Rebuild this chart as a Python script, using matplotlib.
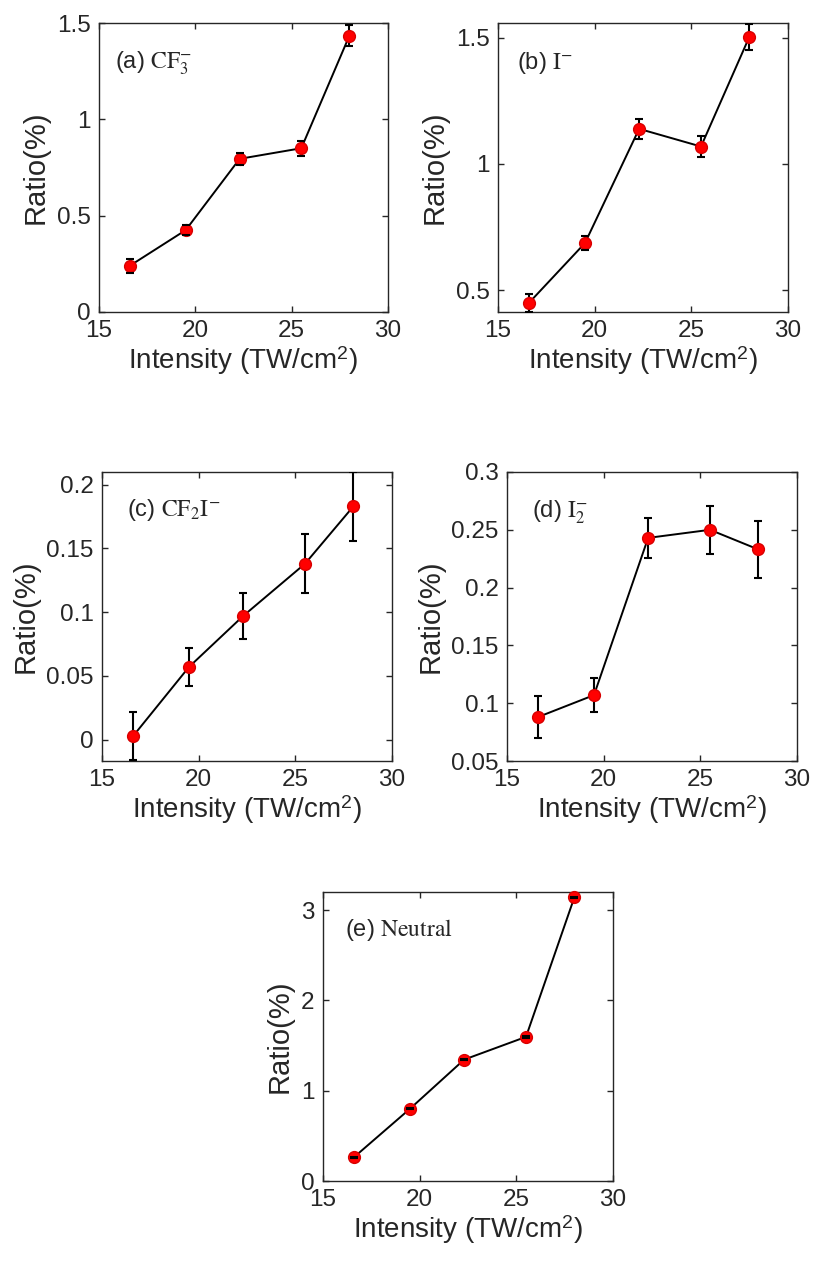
import matplotlib
matplotlib.use("Agg")
import matplotlib.pyplot as plt
from matplotlib.ticker import FuncFormatter

plt.rcParams['font.family'] = ['Liberation Sans', 'DejaVu Sans']
plt.rcParams['mathtext.fontset'] = 'stix'

# data
intensity = [16.6, 19.5, 22.3, 25.5, 28.0]

cf3 = [0.24, 0.425, 0.795, 0.85, 1.435]
cf3_err = [0.035, 0.025, 0.03, 0.04, 0.055]

i_minus = [0.45, 0.687, 1.139, 1.069, 1.503]
i_minus_err = [0.035, 0.028, 0.04, 0.043, 0.05]

cf2i = [0.0026, 0.057, 0.097, 0.138, 0.183]
cf2i_err = [0.019, 0.015, 0.018, 0.023, 0.027]

i2 = [0.088, 0.107, 0.243, 0.250, 0.233]
i2_err = [0.018, 0.0145, 0.017, 0.021, 0.025]

neutral = [0.263, 0.80, 1.344, 1.596, 3.14]
neutral_err = [0.008, 0.008, 0.008, 0.008, 0.01]

labels = ['(a) $\\mathrm{CF}_3^{-}$', '(b) $\\mathrm{I}^{-}$',
          '(c) $\\mathrm{CF}_2\\mathrm{I}^{-}$', '(d) $\\mathrm{I}_2^{-}$',
          '(e) $\\mathrm{Neutral}$']
ylims = [(0, 1.5), (0.414, 1.558), (-0.0168, 0.21), (0.05, 0.3), (0, 3.2)]
yticks = [[0, 0.5, 1, 1.5], [0.5, 1, 1.5], [0, 0.05, 0.1, 0.15, 0.2],
          [0.05, 0.1, 0.15, 0.2, 0.25, 0.3], [0, 1, 2, 3]]
series = [(cf3, cf3_err), (i_minus, i_minus_err), (cf2i, cf2i_err),
          (i2, i2_err), (neutral, neutral_err)]

W, H = 814, 1264
# axes boxes in pixels: left, right, top, bottom
boxes = [(99, 388, 23, 312), (498, 788, 23, 312),
         (102, 392, 472, 761), (507, 797, 472, 761),
         (323, 613, 892, 1181)]
text_pos = [(0.055, 0.86), (0.066, 0.86), (0.086, 0.87), (0.086, 0.86), (0.076, 0.87)]

fig = plt.figure(figsize=(W / 100, H / 100), dpi=100)
txtc = '#262626'

for k in range(5):
    l, r, t, b = boxes[k]
    ax = fig.add_axes([l / W, 1 - b / H, (r - l) / W, (b - t) / H])
    y, e = series[k]
    _, caps, _ = ax.errorbar(intensity, y, yerr=e, color='black', lw=1.4,
                             elinewidth=1.5, capsize=3, capthick=1.5, zorder=2)
    for c in caps:
        c.set_zorder(4)
    ax.plot(intensity, y, 'o', color='#ff0000', mec='#d80000', ms=8.5,
            zorder=3, clip_on=False)
    ax.set_xlim(15, 30)
    ax.set_ylim(*ylims[k])
    ax.set_xticks([15, 20, 25, 30])
    ax.set_yticks(yticks[k])
    ax.yaxis.set_major_formatter(FuncFormatter(lambda v, p: '%g' % round(v, 4)))
    ax.tick_params(direction='in', top=True, right=True, length=4, width=1,
                   labelsize=17.5, colors=txtc, pad=6)
    for s in ax.spines.values():
        s.set_color(txtc)
        s.set_linewidth(1.0)
    ax.set_xlabel('Intensity (TW/cm$^{\\mathregular{2}}$)', fontsize=20,
                  color=txtc, labelpad=1)
    ax.set_ylabel('Ratio(%)', fontsize=21, color=txtc, labelpad=5)
    tx, ty = text_pos[k]
    ax.text(tx, ty, labels[k], transform=ax.transAxes, fontsize=17,
            ha='left', va='center', color=txtc)

fig.savefig('out.png', dpi=100)
